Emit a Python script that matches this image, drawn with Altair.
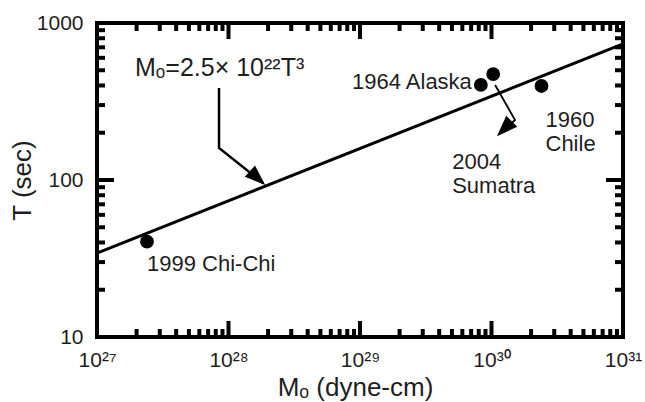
import altair as alt
import pandas as pd

# ---- data ----
event_names = ["1999 Chi-Chi", "1964 Alaska", "2004 Sumatra", "1960 Chile"]
event_labels = ["1999 Chi-Chi", "1964 Alaska", "2004\nSumatra", "1960\nChile"]
event_mo = [2.4e27, 8.3e29, 1.03e30, 2.4e30]
event_t = [40.5, 403, 473, 397]

# fitted line Mo = 2.5e22 T^3, end points read at the plot edges
line_mo = [1e27, 1e31]
line_t = [34.2, 737]

# annotation arrows (data units)
eq_arrow_mo = [8.47e27, 8.47e27, 1.83e28]
eq_arrow_t = [385, 160, 95.7]
su_arrow_mo = [1.065e30, 1.51e30, 1.14e30]
su_arrow_t = [403, 241, 196]

x_major = [1e27, 1e28, 1e29, 1e30, 1e31]
x_minor = [k * 10.0 ** n for n in range(27, 31) for k in range(2, 10)]
y_major = [10.0, 100.0, 1000.0]
y_minor = [k * 10.0 ** n for n in range(1, 3) for k in range(2, 10)]
x_sup = ["²⁷", "²⁸", "²⁹", "³⁰", "³¹"]

W, H = 526, 314
FONT = "Liberation Sans"
TXT = "#1e1e1e"

xs = alt.Scale(type="log", domain=[1e27, 1e31], nice=False)
ys = alt.Scale(type="log", domain=[10, 1000], nice=False)

sup_js = "[" + ",".join("'%s'" % s for s in x_sup) + "]"
xaxis = alt.Axis(
    values=x_major,
    labelExpr="'10' + " + sup_js + "[round(log(datum.value)/LN10)-27]",
    ticks=False, domain=False, grid=False, labelFlush=False, labelOverlap=False,
    labelFont=FONT, labelFontSize=21, labelColor=TXT, labelPadding=12,
    title="Mₒ (dyne-cm)", titleFont=FONT, titleFontSize=26, titleFontWeight="normal",
    titleColor=TXT, titleX=258, titleY=50, titleBaseline="middle", titleAlign="center",
)
yaxis = alt.Axis(
    values=y_major, format="d",
    ticks=False, domain=False, grid=False, labelFlush=False, labelOverlap=False,
    labelFont=FONT, labelFontSize=21, labelColor=TXT, labelPadding=14,
    title="T (sec)", titleFont=FONT, titleFontSize=26, titleFontWeight="normal",
    titleColor=TXT, titleX=-75, titleY=157, titleAngle=270,
    titleBaseline="middle", titleAlign="center",
)

def X():
    return alt.X("x:Q", scale=xs, axis=xaxis)

def Y():
    return alt.Y("y:Q", scale=ys, axis=yaxis)

events = pd.DataFrame({"name": event_names, "label": event_labels, "x": event_mo, "y": event_t})
line_df = pd.DataFrame({"x": line_mo, "y": line_t, "o": [0, 1]})
eq_df = pd.DataFrame({"x": eq_arrow_mo, "y": eq_arrow_t, "o": list(range(3))})
su_df = pd.DataFrame({"x": su_arrow_mo, "y": su_arrow_t, "o": list(range(3))})

frame = alt.Chart(pd.DataFrame({"k": [0]})).mark_rect(
    filled=False, fillOpacity=0, stroke="black", strokeWidth=4
).encode(x=alt.value(0), x2=alt.value(W), y=alt.value(0), y2=alt.value(H))

fit = alt.Chart(line_df).mark_line(color="black", strokeWidth=3).encode(x=X(), y=Y(), order="o:O")
eq_shaft = alt.Chart(eq_df).mark_line(color="black", strokeWidth=2.5).encode(x=X(), y=Y(), order="o:O")
su_shaft = alt.Chart(su_df).mark_line(color="black", strokeWidth=1.8).encode(x=X(), y=Y(), order="o:O")

HEAD = "M0,0L0.65,1.75L-0.65,1.75Z"
eq_head = alt.Chart(eq_df).transform_filter(alt.datum.o == 2).mark_point(
    shape=HEAD, size=360, filled=True, fill="black", stroke="black", opacity=1, angle=132
).encode(x=X(), y=Y())
su_head = alt.Chart(su_df).transform_filter(alt.datum.o == 2).mark_point(
    shape=HEAD, size=380, filled=True, fill="black", stroke="black", opacity=1, angle=225
).encode(x=X(), y=Y())

eq_text = alt.Chart(eq_df).transform_filter(alt.datum.o == 0).mark_text(
    text="Mₒ=2.5× 10²²T³", font=FONT, fontSize=25, color=TXT,
    align="left", baseline="middle", dx=-84, dy=-20
).encode(x=X(), y=Y())

pts = alt.Chart(events).mark_circle(size=190, color="black", opacity=1).encode(x=X(), y=Y())

offsets = {
    "1999 Chi-Chi": dict(dx=0, dy=22, align="left"),
    "1964 Alaska": dict(dx=-9, dy=-3, align="right"),
    "2004 Sumatra": dict(dx=-41, dy=88, align="left"),
    "1960 Chile": dict(dx=4, dy=34, align="left"),
}
labels = []
for nm in event_names:
    o = offsets[nm]
    labels.append(
        alt.Chart(events).transform_filter(alt.datum.name == nm).mark_text(
            font=FONT, fontSize=22, color=TXT, baseline="middle", lineBreak="\n",
            lineHeight=24, **o
        ).encode(x=X(), y=Y(), text="label:N")
    )

TW = 4
TC = "#000000"

def x_ticks(vals, length):
    df = pd.DataFrame({"x": vals, "name": "tick"})
    bot = alt.Chart(df).mark_rule(color=TC, strokeWidth=TW, opacity=1).encode(
        x=X(), y=alt.value(H), y2=alt.value(H - length))
    top = alt.Chart(df).mark_rule(color=TC, strokeWidth=TW, opacity=1).encode(
        x=X(), y=alt.value(0), y2=alt.value(length))
    return [bot, top]

def y_ticks(vals, length):
    df = pd.DataFrame({"y": vals, "name": "tick"})
    left = alt.Chart(df).mark_rule(color=TC, strokeWidth=TW, opacity=1).encode(
        y=Y(), x=alt.value(0), x2=alt.value(length))
    right = alt.Chart(df).mark_rule(color=TC, strokeWidth=TW, opacity=1).encode(
        y=Y(), x=alt.value(W), x2=alt.value(W - length))
    return [left, right]

layers = [frame, fit, eq_shaft, su_shaft, eq_head, su_head, pts, eq_text] + labels
layers += x_ticks(x_major, 16) + x_ticks(x_minor, 8) + y_ticks(y_major, 17) + y_ticks(y_minor, 8)

chart = alt.layer(*layers).properties(
    width=W, height=H,
    autosize=alt.AutoSizeParams(type="none"),
    padding={"left": 97, "top": 23, "right": 22, "bottom": 65},
    background="white",
).configure_view(strokeWidth=0)

chart.save("out.html", embed_options={"renderer": "svg", "actions": False})
